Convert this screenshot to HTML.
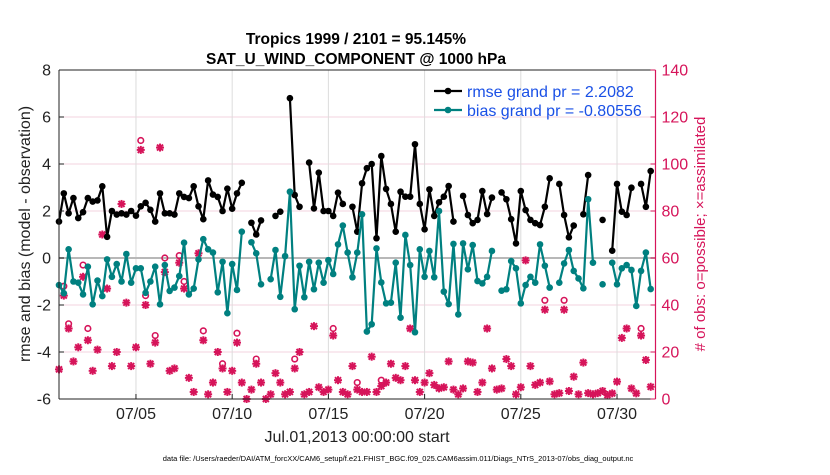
<!DOCTYPE html>
<html><head><meta charset="utf-8"><style>
body{margin:0;background:#fff;width:830px;height:470px;overflow:hidden}
svg{font-family:"Liberation Sans",Arial,sans-serif}
</style></head><body>
<svg id="chart" width="830" height="470"></svg>
<script>
const rmse=[1.55,2.75,1.9,2.55,1.7,1.95,2.55,2.4,2.45,3.05,
0.9,2.0,1.85,1.9,1.85,2.0,1.8,2.2,2.35,2.05,
1.55,2.75,1.9,1.9,1.85,2.75,2.6,2.55,3.05,2.2,
1.65,3.3,2.7,2.6,2.0,2.95,2.1,2.75,3.2,null,
1.5,1.0,1.6,null,null,1.79,1.97,null,6.8,2.68,
2.18,null,4.06,2.11,3.63,2.0,2.0,1.79,2.78,2.3,
null,2.18,1.12,3.18,3.82,4.0,0.84,4.34,2.94,2.3,
1.12,2.82,2.61,2.61,4.84,2.3,1.22,2.92,1.79,2.37,
2.61,3.06,1.55,null,2.64,1.83,1.48,1.62,2.85,1.87,
2.57,null,2.79,2.5,1.65,0.62,2.85,2.04,1.62,1.48,
1.4,2.18,3.39,null,3.15,1.83,0.88,1.38,null,1.86,
3.53,null,null,1.62,null,0.31,3.15,1.97,1.83,2.99,
null,3.15,2.18,3.7];
const bias=[-1.15,-1.5,0.37,-1.0,-1.05,-1.55,-0.37,-1.97,-0.96,-1.62,
-0.06,-0.8,-0.26,-1.0,0.17,-1.05,-0.44,-0.44,-1.48,-1.0,
-0.37,-1.97,-0.3,-1.4,-1.26,-0.77,0.65,-1.55,-1.3,-0.06,
0.8,0.37,0.23,-1.46,-0.16,-2.35,-0.26,-1.36,1.12,null,
0.67,0.2,-1.12,null,-0.9,0.34,-1.65,0.08,2.82,-2.18,
-0.33,-1.67,-0.16,-1.33,-0.2,-1.05,-0.09,-0.68,0.58,1.38,
0.23,-0.82,0.23,1.86,-3.13,-2.82,0.41,-1.04,-1.93,-1.9,
-0.2,-2.54,0.98,-0.3,-3.16,0.37,-0.8,0.3,-0.82,2.0,
-1.43,-1.96,0.6,-2.4,0.62,-0.48,0.55,-0.98,-1.08,-0.8,
0.3,null,-1.39,-1.33,-0.13,-0.44,-1.93,-1.15,-0.8,-1.05,
0.58,-0.33,-1.26,null,-1.05,-0.23,0.34,-0.55,-0.87,-1.29,
2.5,-0.2,null,-1.12,null,-0.2,-1.12,-0.44,-0.3,-0.51,
-2.04,-0.55,0.23,-1.32];
const assimilated=[12.6,44,30,16,22,52,25,12,21,70,
47,14,20,83,41,14,22,106,40,15,
24,107,54,12,13,58,47,9,3,62,
25,2,7,20,13,3,12,24,7,0,
4,15,7,0,2,11,7,2,3,13,
20,2,3,31,5,3,4,27,8,3,
2,14,4,3,3,18,3,5.5,7,15,
9,8,14,30,8,3,7,11,6,4.5,
5,16,4,2,4.5,16,15.5,3,7,30,
13,4,4.5,17,14,2,5,59,14,6,
7,38,7.5,2,2.5,38,3.4,9.5,2,15.5,
2.5,2,2.5,3.4,1.7,2.4,7.4,26,30,4.5,
2.4,27,16.6,5.2];
const possible=[14,48,32,16,22,57,30,12,21,70,
47,14,20,83,41,14,22,110,44,15,
27,107,60,12,13,61,50,9,3,63,
29,2,7,20,15,3,12,28,7,0,
4,17,7,0,2,11,7,2,3,17,
20,2,3,31,5,3,4,30,8,3,
2,15.5,7,3,3,18.5,3,8,7,15,
9,8,14,30,8,3,7,11,6,4.5,
5,17,4,2,4.5,16,15.5,3,7,30,
13,4,4.5,17,14,2,5,59,14,6,
7,42,7.5,2,2.5,42,3.4,9.5,2,15.5,
4,2,2.5,3.4,1.7,2.4,7.4,26,30,4.5,
2.4,30,16.6,5.2];
const leftTicks=[-6,-4,-2,0,2,4,6,8];
const rightTicks=[0,20,40,60,80,100,120,140];
const dayTicks=[4,9,14,19,24,29];
const dayLabels=["07/05","07/10","07/15","07/20","07/25","07/30"];

const L=59,R=655.5,T=70,B=399;
const X=d=>L+(d/31)*(R-L);
const Y=v=>B-(v+6)/14*(B-T);
const YR=v=>B-v/140*(B-T);
const tOf=i=>i*0.25;
const svg=document.getElementById('chart');
const NS='http://www.w3.org/2000/svg';
function mk(tag,attrs,parent){const e=document.createElementNS(NS,tag);for(const k in attrs)e.setAttribute(k,attrs[k]);(parent||svg).appendChild(e);return e;}
const MAG='#d6145a';

// grid
const grid=mk('g',{});


leftTicks.forEach(v=>{if(v>-6&&v<8)mk('line',{x1:L,x2:R,y1:Y(v),y2:Y(v),stroke:'#f3d3df','stroke-width':1},grid);});
dayTicks.forEach(d=>mk('line',{x1:X(d),x2:X(d),y1:T,y2:B,stroke:'#dcdcdc','stroke-width':1},grid));
const zl=mk('line',{x1:L,x2:R,y1:Y(0),y2:Y(0),stroke:'#b8b8b8','stroke-width':2});



// magenta markers
const obsG=mk('g',{});


possible.forEach((v,i)=>{if(v>assimilated[i]+1.5){const c=mk('circle',{cx:X(tOf(i)),cy:YR(v),r:2.8,fill:'none',stroke:MAG,'stroke-width':1.6},obsG);}});
assimilated.forEach((v,i)=>{const x=X(tOf(i)),y=YR(v),s=4;
 const g=mk('g',{stroke:MAG,'stroke-width':2,fill:MAG},obsG);
 
 
 mk('line',{x1:x-s,x2:x+s,y1:y,y2:y},g);mk('line',{x1:x,x2:x,y1:y-s,y2:y+s},g);
 mk('line',{x1:x-3,x2:x+3,y1:y-3,y2:y+3},g);mk('line',{x1:x-3,x2:x+3,y1:y+3,y2:y-3},g);
 mk('circle',{cx:x,cy:y,r:2,stroke:'none'},g);});

function series(arr,color,name){
 const g=mk('g',{});
 
 
 let d='',pen=false;
 arr.forEach((v,i)=>{if(v===null){pen=false;return;}d+=(pen?'L':'M')+X(tOf(i)).toFixed(1)+' '+Y(v).toFixed(1);pen=true;});
 mk('path',{d:d,fill:'none',stroke:color,'stroke-width':2.2,'stroke-linejoin':'round'},g);
 arr.forEach((v,i)=>{if(v!==null){const c=mk('circle',{cx:X(tOf(i)),cy:Y(v),r:3.3,fill:color},g);}});
}
series(rmse,'#000','rmse-series');
series(bias,'#008080','bias-series');

// axes
const ax=mk('g',{});


mk('line',{x1:L,x2:R,y1:T,y2:T,stroke:'#222'},ax);
mk('line',{x1:L,x2:R,y1:B,y2:B,stroke:'#222'},ax);
mk('line',{x1:L,x2:L,y1:T,y2:B,stroke:'#222'},ax);
mk('line',{x1:R,x2:R,y1:T,y2:B,stroke:MAG,'stroke-width':1.2},ax);
leftTicks.forEach(v=>{mk('line',{x1:L,x2:L+5,y1:Y(v),y2:Y(v),stroke:'#222'},ax);
 const t=mk('text',{x:L-8,y:Y(v)+5.5,'text-anchor':'end','font-size':16,fill:'#222'},ax);t.textContent=v;
 });
rightTicks.forEach(v=>{mk('line',{x1:R-5,x2:R,y1:YR(v),y2:YR(v),stroke:MAG},ax);
 const t=mk('text',{x:R+6,y:YR(v)+5.5,'font-size':16,fill:MAG},ax);t.textContent=v;
 });
dayTicks.forEach((d,k)=>{mk('line',{x1:X(d),x2:X(d),y1:B-5,y2:B,stroke:'#222'},ax);
 const t=mk('text',{x:X(d),y:B+20,'text-anchor':'middle','font-size':16,fill:'#222'},ax);t.textContent=dayLabels[k];
 });
</script>
<svg width="830" height="470" style="position:absolute;left:0;top:0">
<text x="356" y="44" text-anchor="middle" font-size="15.5" font-weight="bold" font-family="Liberation Sans,sans-serif">Tropics 1999 / 2101 = 95.145%</text>
<text x="356" y="64" text-anchor="middle" font-size="15.5" font-weight="bold" font-family="Liberation Sans,sans-serif">SAT_U_WIND_COMPONENT @ 1000 hPa</text>
<text x="357" y="442" text-anchor="middle" font-size="16" fill="#222" font-family="Liberation Sans,sans-serif">Jul.01,2013 00:00:00 start</text>
<text transform="translate(30,234) rotate(-90)" text-anchor="middle" font-size="16" fill="#222" font-family="Liberation Sans,sans-serif">rmse and bias (model - observation)</text>
<text transform="translate(705,234) rotate(-90)" text-anchor="middle" font-size="15" fill="#d6145a" font-family="Liberation Sans,sans-serif"># of obs: o=possible; ×=assimilated</text>
<g font-family="Liberation Sans,sans-serif">
<line x1="434" x2="462" y1="91" y2="91" stroke="#000" stroke-width="2.2"/><circle cx="448" cy="91" r="3.3" fill="#000"/>
<text x="467" y="97" font-size="16" fill="#1a50e6">rmse grand pr = 2.2082</text>
<line x1="434" x2="462" y1="110" y2="110" stroke="#008080" stroke-width="2.2"/><circle cx="448" cy="110" r="3.3" fill="#008080"/>
<text x="467" y="116" font-size="16" fill="#1a50e6">bias grand pr = -0.80556</text>
</g>
<text x="398" y="461" text-anchor="middle" font-size="7.5" fill="#000" font-family="Liberation Sans,sans-serif">data file: /Users/raeder/DAI/ATM_forcXX/CAM6_setup/f.e21.FHIST_BGC.f09_025.CAM6assim.011/Diags_NTrS_2013-07/obs_diag_output.nc</text>
</svg>
</body></html>
